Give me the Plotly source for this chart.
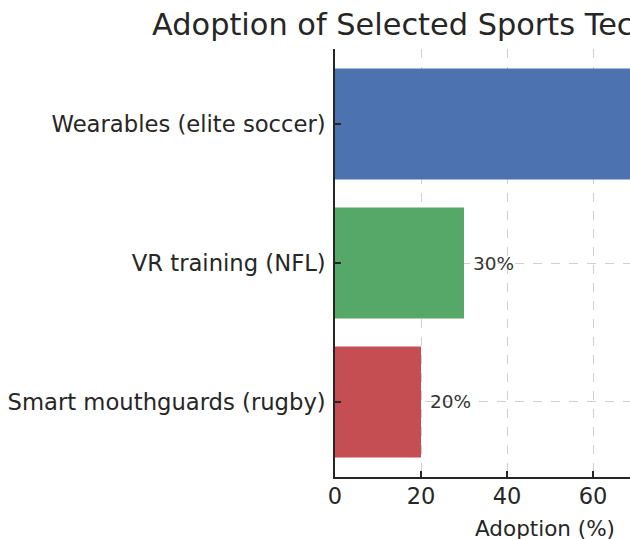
import plotly.graph_objects as go

categories = ["Smart mouthguards (rugby)", "VR training (NFL)", "Wearables (elite soccer)"]
values = [20, 30, 93]
colors = ["#C44E52", "#55A868", "#4C72B0"]
title_text = "Adoption of Selected Sports Technologies"
x_label = "Adoption (%)"
x_ticks = [0, 20, 40, 60, 80, 100]

# full (uncropped) axis extent, matplotlib-style 5% headroom
x_full_max = max(values) * 1.05
x_visible_max = 68.6

FONT = "DejaVu Sans"
TXT = "#262626"

fig = go.Figure()
fig.add_trace(go.Bar(
    y=categories, x=values, orientation="h",
    marker=dict(color=colors, line=dict(width=0)),
    width=0.8,
    hoverinfo="skip",
))

for c, v in zip(categories, values):
    fig.add_annotation(x=v, y=c, xref="x", yref="y", text=f"{v}%",
                       showarrow=False, xanchor="left", xshift=7,
                       font=dict(family=FONT, size=18.5, color="#333333"))

fig.add_annotation(x=x_full_max / 2, y=0, xref="x", yref="paper",
                   text=x_label, showarrow=False, xanchor="center", yanchor="top",
                   yshift=-37, font=dict(family=FONT, size=21.5, color=TXT))

W, H = 630, 539
fig.update_layout(
    width=W, height=H,
    margin=dict(l=335, r=0, t=49, b=62, pad=0),
    paper_bgcolor="white", plot_bgcolor="white",
    showlegend=False,
    bargap=0.2,
    title=dict(text=title_text, x=152 / W, xanchor="left", xref="container",
               y=1 - 24.5 / H, yanchor="middle", yref="container",
               font=dict(family=FONT, size=30.4, color=TXT)),
    font=dict(family=FONT, color=TXT),
)
fig.update_xaxes(
    range=[0, x_visible_max], tickvals=x_ticks, ticktext=[str(t) for t in x_ticks],
    showline=True, linecolor=TXT, linewidth=1.5, mirror=False,
    ticks="inside", ticklen=6, tickwidth=1.5, tickcolor=TXT,
    tickfont=dict(family=FONT, size=22.5, color=TXT), ticklabelstandoff=-2,
    showgrid=True, gridcolor="rgba(150,150,150,0.45)", griddash="dash", gridwidth=1,
    zeroline=False, layer="above traces", fixedrange=True,
)
fig.update_yaxes(
    range=[-0.54, 2.54], categoryorder="array", categoryarray=categories,
    showline=True, linecolor=TXT, linewidth=1.5,
    ticks="inside", ticklen=6, tickwidth=1.5, tickcolor=TXT,
    tickfont=dict(family=FONT, size=22.7, color=TXT), ticklabelstandoff=3,
    showgrid=True, gridcolor="rgba(150,150,150,0.45)", griddash="dash", gridwidth=1,
    zeroline=False, layer="above traces", fixedrange=True,
)

fig.write_html(
    "out.html",
    config={"displayModeBar": False},
    post_script="document.body.style.margin='0';document.body.style.overflow='hidden';",
)
